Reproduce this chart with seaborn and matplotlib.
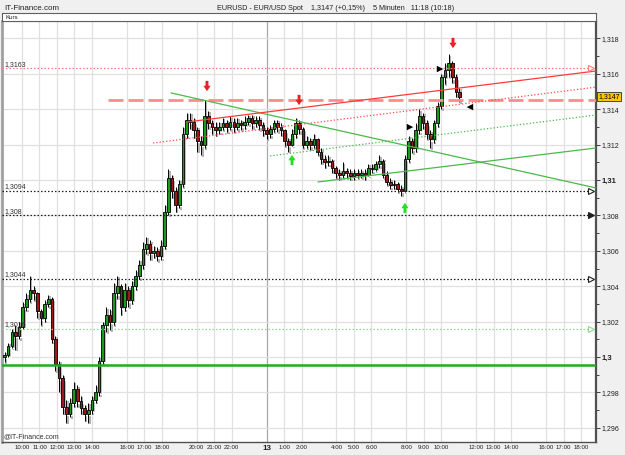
import numpy as np
import pandas as pd
import matplotlib
matplotlib.use("Agg")
import matplotlib.pyplot as plt
import seaborn as sns
from matplotlib.markers import MarkerStyle
from matplotlib.path import Path

# Kurse in Pips über 1,2900 (247 -> 1,3147), 5-Minuten-Chart grob zusammengefasst
open_first = 100
close = [101, 106, 114, 112, 117, 128, 133, 138, 136, 126,
         122, 130, 133, 110, 96, 88, 72, 68, 74, 82,
         75, 71, 68, 70, 76, 80, 98, 118, 124, 120,
         136, 140, 128, 138, 132, 140, 146, 152, 161, 164,
         159, 160, 157, 163, 182, 201, 194, 186, 198, 226,
         234, 233, 228, 222, 220, 236, 232, 230, 228, 230,
         232, 230, 233, 230, 232, 231, 233, 235, 232, 234,
         231, 228, 226, 229, 232, 230, 228, 222, 220, 226,
         232, 229, 220, 222, 220, 223, 216, 212, 210, 211,
         207, 204, 203, 205, 204, 202, 204, 203, 204, 203,
         207, 206, 209, 211, 203, 199, 197, 198, 195, 194,
         212, 222, 218, 228, 236, 232, 226, 223, 232, 242,
         258, 262, 266, 258, 250, 247]
high = [103, 108, 116, 118, 120, 131, 136, 146, 140, 137,
        127, 132, 135, 134, 112, 98, 90, 76, 77, 86,
        84, 78, 73, 74, 78, 84, 100, 120, 128, 127,
        142, 146, 141, 142, 140, 143, 149, 155, 165, 168,
        166, 163, 162, 166, 186, 206, 203, 196, 200, 230,
        238, 238, 235, 230, 225, 245, 239, 234, 233, 233,
        235, 234, 236, 235, 235, 234, 236, 237, 237, 236,
        236, 233, 230, 231, 234, 234, 232, 229, 224, 229,
        235, 234, 230, 225, 224, 226, 224, 218, 214, 214,
        212, 208, 206, 210, 207, 206, 206, 206, 206, 206,
        209, 209, 211, 214, 212, 205, 201, 200, 199, 197,
        214, 225, 224, 232, 240, 238, 234, 228, 234, 244,
        260, 266, 271, 267, 260, 252]
low = [97, 100, 105, 104, 110, 116, 126, 131, 132, 122,
       118, 120, 128, 108, 92, 80, 68, 63, 66, 72,
       72, 68, 64, 63, 68, 74, 78, 96, 114, 115,
       118, 133, 124, 126, 128, 130, 138, 144, 150, 158,
       155, 156, 154, 155, 161, 180, 190, 182, 184, 196,
       224, 229, 224, 216, 214, 218, 229, 226, 225, 226,
       228, 227, 228, 227, 228, 228, 229, 231, 229, 230,
       228, 225, 223, 224, 227, 227, 225, 219, 216, 219,
       224, 226, 218, 218, 217, 218, 214, 209, 207, 208,
       204, 201, 200, 201, 201, 200, 200, 201, 201, 200,
       202, 204, 205, 207, 201, 197, 195, 195, 193, 191,
       193, 210, 215, 216, 226, 229, 223, 218, 221, 230,
       240, 254, 258, 255, 247, 244]
start_hour = 9.0      # 12. 09:00, Stunden ab Mitternacht
step_min = 12.5

tick_hours = [10, 11, 12, 13, 14, 16, 17, 18, 20, 21, 22, 24, 25, 26,
              28, 29, 30, 32, 33, 34, 36, 37, 38, 40, 41, 42]
tick_labels = ["10:00", "11:00", "12:00", "13:00", "14:00", "16:00", "17:00", "18:00",
               "20:00", "21:00", "22:00", "13", "1:00", "2:00", "4:00", "5:00", "6:00",
               "8:00", "9:00", "10:00", "12:00", "13:00", "14:00", "16:00", "17:00", "18:00"]
price_ticks = [1.296, 1.298, 1.300, 1.302, 1.304, 1.306, 1.308, 1.310, 1.312, 1.314, 1.316, 1.318]

# horizontale Marken
levels = [1.3163, 1.3094, 1.3080, 1.3044, 1.3016]
level_labels = ["1,3163", "1,3094", "1,308", "1,3044", "1,3016"]
level_colors = ["#ff7a7a", "#202020", "#202020", "#202020", "#8fd88f"]
level_filled = [False, False, True, False, False]
support = 1.29955
dash_level = 1.3145
last_price = "1,3147"

# Trendlinien: (h0, p0, h1, p1, Farbe, Stil)
trends = [
    (18.53, 1.31492, 42.86, 1.30955, "#4cb84c", "-"),
    (19.45, 1.31328, 42.86, 1.31616, "#ff3a3a", "-"),
    (17.50, 1.31209, 42.86, 1.31525, "#ff4a4a", ":"),
    (24.20, 1.31136, 42.86, 1.31367, "#4cb84c", ":"),
    (26.94, 1.30989, 42.86, 1.31181, "#4cb84c", "-"),
]
# Signale
sell_x = [20.59, 25.86, 34.67]
sell_y = [1.31531, 1.31452, 1.31774]
buy_x = [25.455, 31.92]
buy_y = [1.31113, 1.30842]
tri_r_x = [33.93, 32.21]
tri_r_y = [1.31627, 1.31299]
tri_l_x = [35.64]
tri_l_y = [1.31412]

sns.set_theme(style="white")
plt.rcParams["font.family"] = ["Liberation Sans", "DejaVu Sans"]

W, H = 625, 455
fig = plt.figure(figsize=(W / 100, H / 100), dpi=100)
fig.patch.set_facecolor("#f0f0f0")
ax_l, ax_r, ax_t, ax_b = 2, 596, 21, 442
ax = fig.add_axes([ax_l / W, 1 - ax_b / H, (ax_r - ax_l) / W, (ax_b - ax_t) / H])
ax.set_facecolor("white")

# Kurs-Leiste oben
kurs = fig.add_axes([ax_l / W, 1 - ax_t / H, (ax_r - ax_l) / W, 8 / H])
kurs.set_facecolor("white")
kurs.set_xticks([])
kurs.set_yticks([])
for s in kurs.spines.values():
    s.set_color("#606060")
    s.set_linewidth(0.8)
kurs.text(0.006, 0.45, "Kurs", fontsize=4.5, va="center", ha="left", color="#202020")

xmin, xmax = 8.855, 42.857
ymin, ymax = 1.29520, 1.318983

for h in tick_hours:
    ax.axvline(h, color="#a8a8a8" if h == 24 else "#e0e0e0", lw=0.9, zorder=0)
for p in price_ticks:
    ax.axhline(p, color="#e0e0e0", lw=0.9, zorder=0)

# Candles
df = pd.DataFrame({"close": close, "high": high, "low": low})
df["open"] = [open_first] + close[:-1]
for col in ["open", "close", "high", "low"]:
    df[col] = 1.29 + df[col] / 10000
df["t"] = start_hour + np.arange(len(df)) * step_min / 60
bottom = df[["open", "close"]].min(axis=1)
height = (df["close"] - df["open"]).abs().clip(lower=0.00006)
colors = np.where(df["close"] >= df["open"], "#1c9a1c", "#a01818")
w = 0.15
sh = 0.085
ax.vlines(df["t"] + sh, df["low"] - 0.00008, df["high"] - 0.00008, color="#b0b0b0", lw=1.4, zorder=2)
ax.bar(df["t"] + sh, height, bottom=bottom - 0.00008, width=w, color="#b0b0b0", zorder=2)
ax.vlines(df["t"], df["low"], df["high"], color="black", lw=0.7, zorder=3)
ax.bar(df["t"], height, bottom=bottom, width=w, color=colors, edgecolor="black", linewidth=0.6, zorder=4)

# Linien
ax.axhline(support, color="#22aa22", lw=1.8, zorder=5)
ax.plot([14.92, xmax], [dash_level, dash_level], color="#ff8c8c", lw=2, dashes=(5.4, 1.8), zorder=5)
for h0, p0, h1, p1, c, ls in trends:
    ax.plot([h0, h1], [p0, p1], color=c, lw=0.9, ls=ls, zorder=5)
for lv, lab, c, filled in zip(levels, level_labels, level_colors, level_filled):
    ax.plot([xmin, 42.5], [lv, lv], color=c, lw=0.9, ls=(0, (1.2, 1.6)), zorder=5)
    ax.plot([42.55], [lv], marker=">", ms=4.5, mfc=c if filled else "white", mec=c, mew=0.8, zorder=6)
    ax.text(8.98, lv + 0.00004, lab, fontsize=5, color="#303030", va="bottom", ha="left", zorder=6)

down_arrow = MarkerStyle(Path([(-0.28, 1), (0.28, 1), (0.28, 0.05), (0.7, 0.05), (0, -1), (-0.7, 0.05),
                               (-0.28, 0.05), (-0.28, 1)]))
up_arrow = MarkerStyle(Path([(-0.28, -1), (0.28, -1), (0.28, -0.05), (0.7, -0.05), (0, 1), (-0.7, -0.05),
                             (-0.28, -0.05), (-0.28, -1)]))
sns.scatterplot(x=sell_x, y=sell_y, marker=down_arrow, s=55, color="#e82020", edgecolor="none", ax=ax, zorder=7)
sns.scatterplot(x=buy_x, y=buy_y, marker=up_arrow, s=55, color="#22e022", edgecolor="none", ax=ax, zorder=7)
sns.scatterplot(x=tri_r_x, y=tri_r_y, marker=">", s=22, color="black", edgecolor="none", ax=ax, zorder=7)
sns.scatterplot(x=tri_l_x, y=tri_l_y, marker="<", s=22, color="black", edgecolor="none", ax=ax, zorder=7)

ax.set_xlim(xmin, xmax)
ax.set_ylim(ymin, ymax)
ax.set_xticks(tick_hours, tick_labels)
ax.tick_params(axis="x", length=0, pad=2, labelsize=4.4, colors="#202020")
for t in ax.get_xticklabels():
    if t.get_text() == "13":
        t.set_fontweight("bold")
        t.set_fontsize(5.8)
ax.yaxis.tick_right()
ax.set_yticks(price_ticks, [f"{p:.3f}".rstrip("0").replace(".", ",") for p in price_ticks])
ax.set_yticks(np.arange(1.297, 1.3185, 0.002), minor=True)
ax.tick_params(axis="y", which="major", right=True, left=False, length=3, width=0.6, pad=1,
               labelsize=5, colors="#202020", direction="out")
ax.tick_params(axis="y", which="minor", right=True, left=False, length=2, width=0.6, direction="out",
               color="#202020")
for t in ax.get_yticklabels():
    if t.get_text() in ("1,31", "1,3"):
        t.set_fontweight("bold")
        t.set_fontsize(5.5)

for side, c, lw in [("left", "#a0a0a0", 2), ("right", "#505050", 1.6), ("bottom", "#505050", 1),
                    ("top", "#606060", 0.8)]:
    ax.spines[side].set_color(c)
    ax.spines[side].set_linewidth(lw)

ax.text(0.003, 0.004, "@IT-Finance.com", transform=ax.transAxes, fontsize=5, color="#303030",
        va="bottom", ha="left")
fig.text(609 / W, 1 - 96.5 / H, last_price, fontsize=5, ha="center", va="center", color="black",
         bbox=dict(boxstyle="square,pad=0.2", fc="#ffc800", ec="#303030", lw=0.6))
fig.text(4 / W, 1 - 8 / H, "IT-Finance.com", fontsize=5.8, ha="left", va="center", color="#202020")
fig.text(336 / W, 1 - 8 / H, "EURUSD - EUR/USD Spot    1,3147 (+0,15%)    5 Minuten   11:18 (10:18)",
         fontsize=5.2, ha="center", va="center", color="#202020")

fig.savefig("out.png", dpi=100, facecolor=fig.get_facecolor())
